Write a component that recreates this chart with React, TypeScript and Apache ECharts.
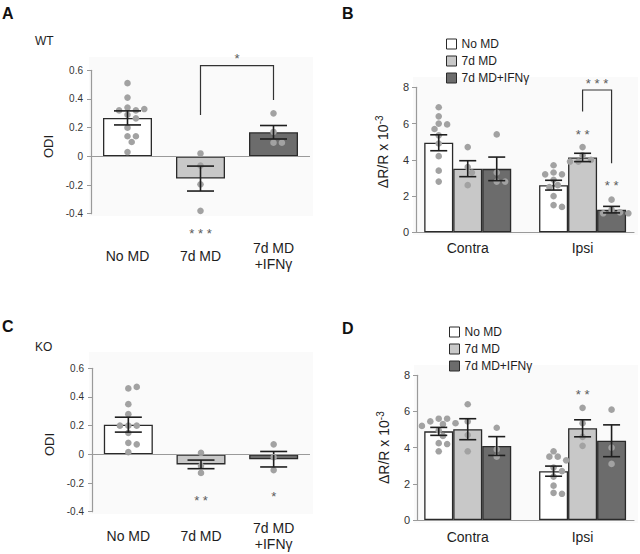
import React, { useEffect, useRef } from 'react';
import * as echarts from 'echarts';

// ---------- data ----------
const groups = ['No MD', '7d MD', '7d MD+IFNγ'];
const odiCategories = ['No MD', '7d MD', '7d MD\n+IFNγ'];
const sides = ['Contra', 'Ipsi'];

// Panel A (WT, ODI)
const wtOdiMean = [0.268, -0.155, 0.168];
const wtOdiSem = [0.049, 0.087, 0.047];
const wtOdiDots = [
  [0.51, 0.41, 0.34, 0.32, 0.32, 0.33, 0.29, 0.265, 0.2, 0.14, 0.14, 0.1, 0.03],
  [0.02, -0.065, -0.195, -0.38],
  [0.3, 0.17, 0.095, 0.095],
];

// Panel C (KO, ODI)
const koOdiMean = [0.207, -0.07, -0.034];
const koOdiSem = [0.052, 0.03, 0.054];
const koOdiDots = [
  [0.46, 0.47, 0.35, 0.28, 0.2, 0.2, 0.2, 0.15, 0.08, 0.07, 0.015],
  [0.01, -0.08, -0.13],
  [0.07, -0.02, -0.11],
];

// Panel B (WT, ΔR/R) – per group: [Contra, Ipsi]
const wtAmpMean = [[4.94, 2.6], [3.51, 4.13], [3.5, 1.25]];
const wtAmpSem = [[0.44, 0.27], [0.44, 0.23], [0.65, 0.18]];
const wtAmpDots = [
  [[6.9, 6.4, 6.0, 5.95, 5.7, 5.35, 4.9, 4.2, 3.4, 2.8], [3.7, 3.3, 3.2, 3.2, 2.9, 2.6, 2.5, 2.0, 1.5, 1.4]],
  [[4.7, 3.6, 3.3, 2.6], [4.7, 4.25, 4.0, 3.9, 3.9]],
  [[5.4, 3.3, 2.8, 2.8], [1.8, 1.25, 1.1, 1.05, 1.05]],
];

// Panel D (KO, ΔR/R)
const koAmpMean = [[4.9, 2.7], [5.02, 5.07], [4.09, 4.38]];
const koAmpSem = [[0.22, 0.28], [0.58, 0.47], [0.52, 0.88]];
const koAmpDots = [
  [[5.6, 5.6, 5.45, 5.35, 5.3, 5.2, 4.95, 4.65, 4.25, 4.2, 3.8], [3.8, 3.5, 3.5, 3.3, 2.9, 2.7, 2.4, 1.9, 1.5, 1.45]],
  [[6.4, 5.45, 4.7, 3.8], [6.2, 5.35, 4.6, 4.1]],
  [[5.1, 3.9, 3.5], [6.1, 4.0, 3.1]],
];

// significance annotations (in data coordinates)
const wtOdiBrackets = [{ cat1: 1, slot1: 0, cat2: 2, slot2: 0, top: 0.632, end1: 0.288, end2: 0.393 }];
const wtOdiStars = [
  { cat: 1, slot: 0, cat2: 2, slot2: 0, y: 0.706, text: '*' },
  { cat: 1, slot: 0, y: -0.514, text: '***' },
];
const koOdiBrackets: any[] = [];
const koOdiStars = [
  { cat: 1, slot: 0, y: -0.3, text: '**' },
  { cat: 2, slot: 0, y: -0.276, text: '*' },
];
const wtAmpBrackets = [{ cat1: 1, slot1: 0, cat2: 1, slot2: 1, top: 7.85, end1: 6.66, end2: 3.81 }];
const wtAmpStars = [
  { cat: 1, slot: 0, cat2: 1, slot2: 1, y: 8.4, text: '***' },
  { cat: 1, slot: 0, y: 5.55, text: '**' },
  { cat: 1, slot: 1, y: 2.74, text: '**' },
];
const koAmpBrackets: any[] = [];
const koAmpStars = [{ cat: 1, slot: 0, y: 7.09, text: '**' }];

// ---------- styles ----------
const FONT = 'Liberation Sans, Arial, Helvetica, sans-serif';
const barColors = ['#ffffff', '#c8c8c8', '#6c6c6c'];
const BAR_BORDER = '#2a2a2a';
const AXIS_GRAY = '#9a9a9a';
const DOT_COLOR = '#a2a2a2';
const ERR_COLOR = '#1e1e1e';
const TEXT = '#1e1e1e';
const PANEL_BG = '#fafafa';
const AMP_BAR_W = 29;

function swarm(ys: number[], d: number, step: number): number[] {
  const xs: number[] = [];
  for (let i = 0; i < ys.length; i++) {
    const cands = [0];
    for (let j = 1; j < 10; j++) cands.push(j * step, -j * step);
    let chosen = 0;
    for (const c of cands) {
      let ok = true;
      for (let p = 0; p < i; p++) {
        const dx = c - xs[p];
        const dy = ys[i] - ys[p];
        if (dx * dx + dy * dy < d * d) { ok = false; break; }
      }
      if (ok) { chosen = c; break; }
    }
    xs.push(chosen);
  }
  return xs;
}

type Cell = { cat: number; slot: number; vals: number[] };

function dotSeries(xi: number, yi: number, cells: Cell[], slotPx: number) {
  const data: number[][] = [];
  cells.forEach((cell, c) => cell.vals.forEach((v, k) => data.push([cell.cat, v, c, k])));
  return {
    type: 'custom',
    xAxisIndex: xi,
    yAxisIndex: yi,
    silent: true,
    z: 3,
    data,
    renderItem: (params: any, api: any) => {
      const c = api.value(2);
      const k = api.value(3);
      const cell = cells[c];
      const ys = cell.vals.map((v) => api.coord([cell.cat, v])[1]);
      const offs = swarm(ys, 6.6, 4.2);
      const base = api.coord([cell.cat, cell.vals[k]]);
      return {
        type: 'circle',
        shape: { cx: base[0] + cell.slot * slotPx + offs[k], cy: base[1], r: 3.3 },
        style: { fill: DOT_COLOR },
      };
    },
  };
}

function errSeries(xi: number, yi: number, items: number[][], slotPx: number, capHalf: number) {
  // items: [cat, mean, sem, slot]
  return {
    type: 'custom',
    xAxisIndex: xi,
    yAxisIndex: yi,
    silent: true,
    z: 4,
    data: items,
    renderItem: (params: any, api: any) => {
      const cat = api.value(0), m = api.value(1), s = api.value(2), slot = api.value(3);
      const t = api.coord([cat, m + s]);
      const b = api.coord([cat, m - s]);
      const x = t[0] + slot * slotPx;
      const st = { stroke: ERR_COLOR, lineWidth: 1.6 };
      return {
        type: 'group',
        children: [
          { type: 'line', shape: { x1: x, y1: t[1], x2: x, y2: b[1] }, style: st },
          { type: 'line', shape: { x1: x - capHalf, y1: t[1], x2: x + capHalf, y2: t[1] }, style: st },
          { type: 'line', shape: { x1: x - capHalf, y1: b[1], x2: x + capHalf, y2: b[1] }, style: st },
        ],
      };
    },
  };
}

function annotSeries(xi: number, yi: number, brackets: any[], stars: any[], slotPx: number) {
  return {
    type: 'custom',
    xAxisIndex: xi,
    yAxisIndex: yi,
    silent: true,
    z: 5,
    clip: false,
    data: [[0, 0]],
    renderItem: (params: any, api: any) => {
      const children: any[] = [];
      const st = { stroke: '#333', lineWidth: 1.2 };
      brackets.forEach((br) => {
        const x1 = api.coord([br.cat1, br.top])[0] + br.slot1 * slotPx;
        const x2 = api.coord([br.cat2, br.top])[0] + br.slot2 * slotPx;
        const yt = api.coord([br.cat1, br.top])[1];
        const y1 = api.coord([br.cat1, br.end1])[1];
        const y2 = api.coord([br.cat2, br.end2])[1];
        children.push({ type: 'polyline', shape: { points: [[x1, y1], [x1, yt], [x2, yt], [x2, y2]] }, style: { ...st, fill: null } });
      });
      stars.forEach((s) => {
        let x = api.coord([s.cat, s.y])[0] + s.slot * slotPx;
        if (s.cat2 !== undefined) {
          const x2 = api.coord([s.cat2, s.y])[0] + s.slot2 * slotPx;
          x = (x + x2) / 2;
        }
        const y = api.coord([s.cat, s.y])[1];
        children.push({
          type: 'text',
          x,
          y: y + 3,
          style: {
            text: s.text.split('').join(' '),
            fill: '#5a5a5a',
            fontSize: 13,
            fontFamily: FONT,
            align: 'center',
            verticalAlign: 'middle',
          },
        });
      });
      return { type: 'group', children };
    },
  };
}

function odiYAxis(gridIndex: number, nameGap: number) {
  return {
    gridIndex,
    type: 'value',
    min: -0.4,
    max: 0.6,
    interval: 0.2,
    axisLine: { show: true, onZero: false, lineStyle: { color: AXIS_GRAY, width: 1.2 } },
    axisTick: { show: true, length: 4, lineStyle: { color: AXIS_GRAY } },
    axisLabel: {
      fontSize: 10, color: '#333', margin: 8, fontFamily: FONT,
      formatter: (v: number) => (Math.abs(v) < 1e-9 ? '0' : v.toFixed(1)),
    },
    splitLine: { show: false },
    name: 'ODI',
    nameLocation: 'middle',
    nameGap,
    nameRotate: 90,
    nameTextStyle: { fontSize: 13, color: TEXT, fontFamily: FONT, padding: [0, 9, 0, 0] },
  };
}

function odiXAxis(gridIndex: number, margin: number) {
  return {
    gridIndex,
    type: 'category',
    data: odiCategories,
    axisLine: { show: false },
    axisTick: { show: false },
    axisLabel: { fontSize: 14, color: TEXT, margin, verticalAlign: 'middle', lineHeight: 16, fontFamily: FONT, interval: 0 },
  };
}

function ampVisibleAxes(gridIndex: number, nameGap: number, namePad: number[]) {
  return {
    x: {
      gridIndex, type: 'value', min: 0, max: 1,
      axisLine: { show: true, lineStyle: { color: AXIS_GRAY, width: 1.2 } },
      axisTick: { show: false }, axisLabel: { show: false }, splitLine: { show: false },
    },
    y: {
      gridIndex, type: 'value', min: 0, max: 8, interval: 2,
      axisLine: { show: true, lineStyle: { color: AXIS_GRAY, width: 1.2 } },
      axisTick: { show: true, length: 4, lineStyle: { color: AXIS_GRAY } },
      axisLabel: { fontSize: 11, color: '#333', margin: 7, fontFamily: FONT },
      splitLine: { show: false },
      name: '{a|ΔR/R x 10}{s|-3}',
      nameLocation: 'middle',
      nameGap,
      nameRotate: 90,
      nameTextStyle: {
        padding: namePad,
        rich: {
          a: { fontSize: 14, color: TEXT, fontFamily: FONT, lineHeight: 18 },
          s: { fontSize: 10, color: TEXT, fontFamily: FONT, verticalAlign: 'top', lineHeight: 18 },
        },
      },
    },
  };
}

function ampBarAxes(gridIndex: number, margin: number) {
  return {
    x: {
      gridIndex, type: 'category', data: sides,
      axisLine: { show: false }, axisTick: { show: false },
      axisLabel: { fontSize: 14, color: TEXT, margin, verticalAlign: 'middle', fontFamily: FONT },
    },
    y: { gridIndex, type: 'value', min: 0, max: 8, show: false },
  };
}

function odiBarSeries(xi: number, yi: number, means: number[]) {
  return {
    type: 'bar',
    name: 'ODI' + xi,
    xAxisIndex: xi,
    yAxisIndex: yi,
    barWidth: 49,
    z: 2,
    data: means.map((v, i) => ({ value: v, itemStyle: { color: barColors[i] } })),
    itemStyle: { borderColor: BAR_BORDER, borderWidth: 1.3 },
    markLine: {
      silent: true,
      symbol: 'none',
      label: { show: false },
      lineStyle: { color: AXIS_GRAY, width: 1.2, type: 'solid' },
      data: [{ yAxis: 0 }],
    },
  };
}

function ampBarSeries(xi: number, yi: number, means: number[][]) {
  return groups.map((g, gi) => ({
    type: 'bar',
    name: g,
    xAxisIndex: xi,
    yAxisIndex: yi,
    barWidth: AMP_BAR_W,
    barGap: '0%',
    z: 2,
    data: sides.map((_, si) => means[gi][si]),
    itemStyle: { color: barColors[gi], borderColor: BAR_BORDER, borderWidth: 1.3 },
  }));
}

function odiCells(dots: number[][]): Cell[] {
  return dots.map((vals, i) => ({ cat: i, slot: 0, vals }));
}
function ampCells(dots: number[][][]): Cell[] {
  const cells: Cell[] = [];
  dots.forEach((bySide, gi) => bySide.forEach((vals, si) => cells.push({ cat: si, slot: gi - 1, vals })));
  return cells;
}
function odiErr(means: number[], sems: number[]) {
  return means.map((m, i) => [i, m, sems[i], 0]);
}
function ampErr(means: number[][], sems: number[][]) {
  const out: number[][] = [];
  means.forEach((bySide, gi) => bySide.forEach((m, si) => out.push([si, m, sems[gi][si], gi - 1])));
  return out;
}

function buildOption() {
  const bVis = ampVisibleAxes(2, 24, [0, 0, 0, 16]);
  const bBar = ampBarAxes(3, 16);
  const dVis = ampVisibleAxes(4, 24, [0, 0, 0, 0]);
  const dBar = ampBarAxes(5, 17);

  const legendBase = {
    data: groups,
    orient: 'vertical',
    icon: 'rect',
    itemWidth: 10,
    itemHeight: 10,
    itemGap: 5,
    itemStyle: { borderColor: BAR_BORDER, borderWidth: 1 },
    textStyle: { fontSize: 12, color: TEXT, fontFamily: FONT },
    selectedMode: false,
    padding: 0,
  };

  const letter = (t: string, x: number, y: number) => ({
    type: 'text', x, y,
    style: { text: t, fill: '#111', fontSize: 16, fontWeight: 'bold', fontFamily: FONT, verticalAlign: 'top' },
  });
  const label = (t: string, x: number, y: number) => ({
    type: 'text', x, y,
    style: { text: t, fill: TEXT, fontSize: 12, fontFamily: FONT, verticalAlign: 'top' },
  });
  const backdrop = (x: number, y: number, w: number, h: number) => ({
    type: 'rect', z: -10, silent: true,
    shape: { x, y, width: w, height: h },
    style: { fill: PANEL_BG },
  });

  return {
    animation: false,
    backgroundColor: '#ffffff',
    textStyle: { fontFamily: FONT },
    grid: [
      { left: 91, top: 70.3, width: 219, height: 143.4 },
      { left: 92, top: 368.3, width: 218, height: 143.4 },
      { left: 416, top: 87.3, width: 218, height: 145 },
      { left: 410.3, top: 87.3, width: 233, height: 145 },
      { left: 417, top: 375.3, width: 217, height: 144.7 },
      { left: 410.3, top: 375.3, width: 233, height: 144.7 },
    ],
    xAxis: [odiXAxis(0, 42), odiXAxis(1, 24), bVis.x, bBar.x, dVis.x, dBar.x],
    yAxis: [odiYAxis(0, 36), odiYAxis(1, 36), bVis.y, bBar.y, dVis.y, dBar.y],
    legend: [
      { ...legendBase, left: 446, top: 38 },
      { ...legendBase, left: 449, top: 326 },
    ],
    graphic: [
      backdrop(89, 57, 224, 159),
      backdrop(89, 352, 224, 162),
      backdrop(413, 77, 225, 158),
      backdrop(414, 365, 224, 158),
      letter('A', 2, 5),
      letter('B', 342, 5),
      letter('C', 2, 318),
      letter('D', 342, 320),
      label('WT', 35, 35),
      label('KO', 35, 341),
    ],
    series: [
      odiBarSeries(0, 0, wtOdiMean),
      odiBarSeries(1, 1, koOdiMean),
      ...ampBarSeries(3, 3, wtAmpMean),
      ...ampBarSeries(5, 5, koAmpMean),
      dotSeries(0, 0, odiCells(wtOdiDots), 0),
      dotSeries(1, 1, odiCells(koOdiDots), 0),
      dotSeries(3, 3, ampCells(wtAmpDots), AMP_BAR_W),
      dotSeries(5, 5, ampCells(koAmpDots), AMP_BAR_W),
      errSeries(0, 0, odiErr(wtOdiMean, wtOdiSem), 0, 13.5),
      errSeries(1, 1, odiErr(koOdiMean, koOdiSem), 0, 13.5),
      errSeries(3, 3, ampErr(wtAmpMean, wtAmpSem), AMP_BAR_W, 8.5),
      errSeries(5, 5, ampErr(koAmpMean, koAmpSem), AMP_BAR_W, 8.5),
      annotSeries(0, 0, wtOdiBrackets, wtOdiStars, 0),
      annotSeries(1, 1, koOdiBrackets, koOdiStars, 0),
      annotSeries(3, 3, wtAmpBrackets, wtAmpStars, AMP_BAR_W),
      annotSeries(5, 5, koAmpBrackets, koAmpStars, AMP_BAR_W),
    ],
  };
}

export default function App() {
  const ref = useRef<HTMLDivElement>(null);
  useEffect(() => {
    if (!ref.current) return;
    const chart = echarts.init(ref.current, undefined, { renderer: 'svg', width: 640, height: 554 });
    chart.setOption(buildOption() as any);
    return () => chart.dispose();
  }, []);
  return <div ref={ref} style={{ position: 'absolute', left: 0, top: 0, width: 640, height: 554 }} />;
}
